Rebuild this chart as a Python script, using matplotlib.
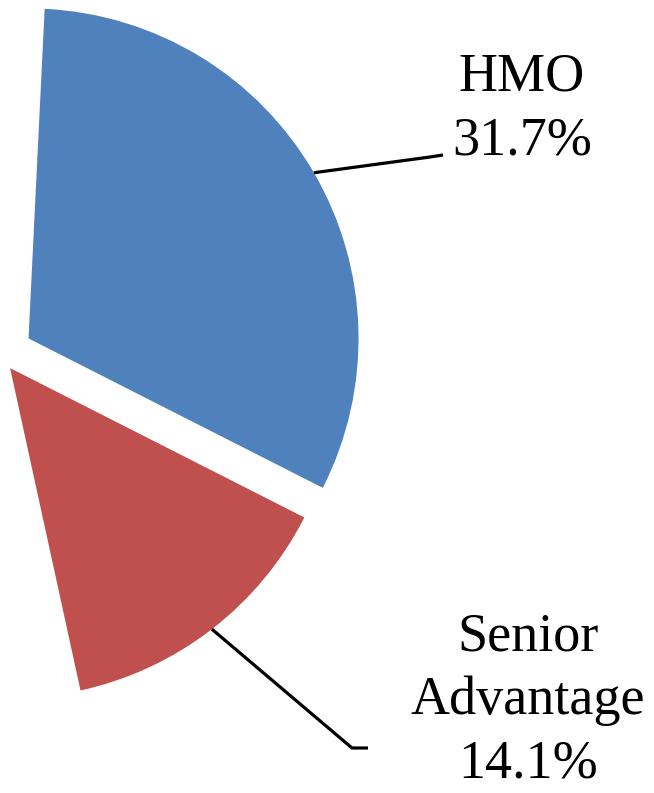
import numpy as np
import matplotlib
matplotlib.use('Agg')
import matplotlib.pyplot as plt

# data
labels = ['HMO', 'Senior\nAdvantage']
shares = [31.7, 14.1]
colors = ['#4F81BD', '#C0504D']
explode = [0.10, 0.05]

plt.rcParams['font.family'] = ['Liberation Serif', 'DejaVu Serif']

W, H = 654, 793
R = 330.0          # pie radius in pixels
CY = 355.0         # pie centre, pixels from top (centre sits on the left edge)

def px(x, y):
    # pixel position -> data coords
    return x / R, (CY - y) / R

fig = plt.figure(figsize=(W / 100, H / 100), dpi=100)
ax = fig.add_axes([0, 0, 1, 1])

wedges, _ = ax.pie(np.array(shares) / 100.0, normalize=False, startangle=87.2,
                   counterclock=False, explode=explode, colors=colors,
                   radius=1.0, center=(0, 0), wedgeprops=dict(linewidth=0))

# label text + leader lines (elbow and end points are layout positions)
text_pos = [px(522, 109), px(528, 701)]
elbows = [(px(430, 157), px(443, 155)), (px(352, 748), px(368, 748))]

for w, lab, val, tp, (e1, e2) in zip(wedges, labels, shares, text_pos, elbows):
    mid = np.deg2rad((w.theta1 + w.theta2) / 2)
    cx, cy = w.center
    sx, sy = cx + w.r * np.cos(mid), cy + w.r * np.sin(mid)
    ax.plot([sx, e1[0], e2[0]], [sy, e1[1], e2[1]], color='black', lw=2.3,
            solid_capstyle='butt', solid_joinstyle='miter')
    ax.text(tp[0], tp[1], f'{lab}\n{val:.1f}%', ha='center', va='center',
            multialignment='center', fontsize=39, linespacing=1.34)

ax.set_xlim(0, W / R)
ax.set_ylim((CY - H) / R, CY / R)
ax.set_aspect('auto')
ax.axis('off')

fig.savefig('out.png', dpi=100)
